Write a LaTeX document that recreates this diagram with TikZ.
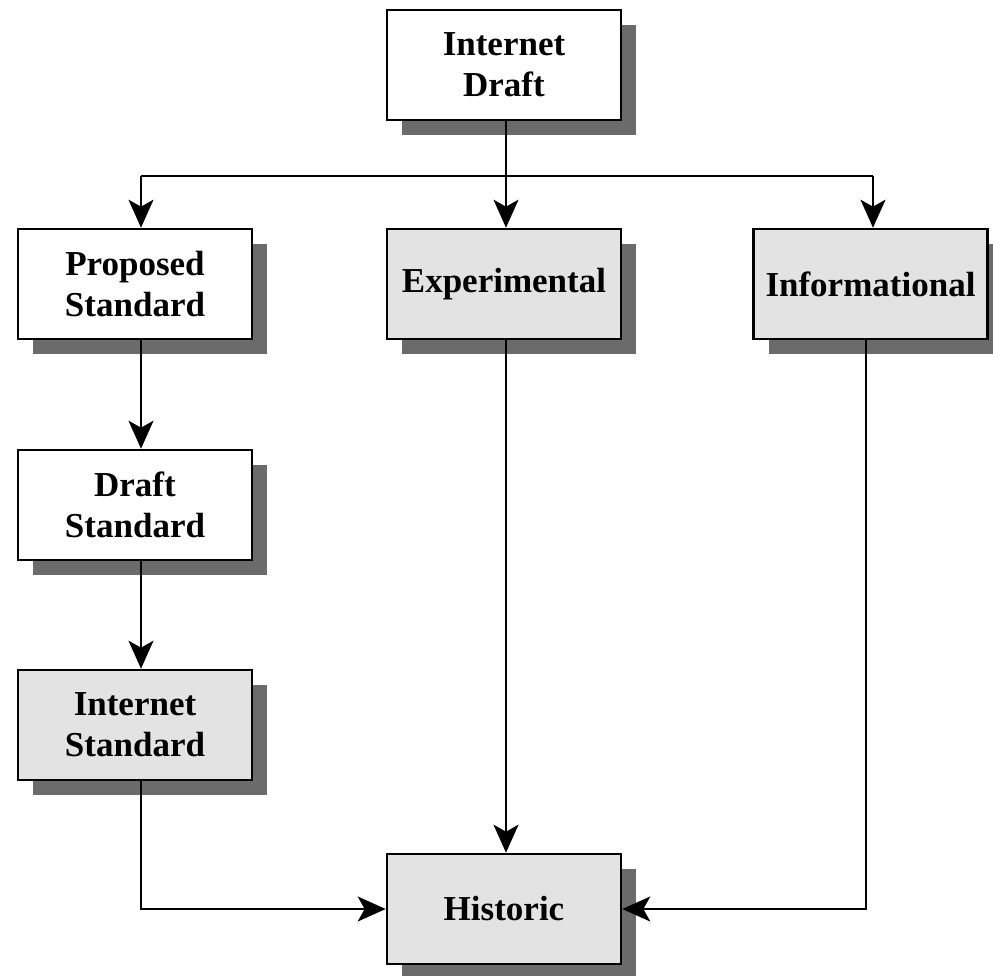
\documentclass[tikz,border=0pt]{standalone}
\usepackage{fontspec}
\setmainfont{Liberation Serif}
\usetikzlibrary{arrows.meta,shadows}
\definecolor{boxgray}{HTML}{E3E3E3}
\definecolor{shadowgray}{HTML}{6B6B6B}
\tikzset{
  box/.style={draw=black, line width=1.3pt, fill=white, minimum width=117pt, minimum height=55pt,
    align=center, inner sep=0pt, font=\fontsize{17.5}{20.5}\selectfont\bfseries,
    general shadow={fill=shadowgray, shadow xshift=7.5pt, shadow yshift=-7.5pt}},
  graybox/.style={box, fill=boxgray},
  line/.style={draw=black, line width=1pt},
  arr/.style={line, -{Stealth[length=14pt, width=12.5pt, inset=3.5pt]}}
}
\begin{document}
\begin{tikzpicture}[x=0.5pt, y=-0.5pt]
\useasboundingbox (0,0) rectangle (993,976);
\node[box] (id) at (504,65) {Internet\\Draft};
\node[box] (ps) at (135,284) {Proposed\\Standard};
\node[graybox] (ex) at (504,284) {Experimental};
\node[graybox] (in) at (870.5,284) {Informational};
\node[box] (ds) at (135,505) {Draft\\Standard};
\node[graybox] (is) at (135,725) {Internet\\Standard};
\node[graybox] (hi) at (504,909) {Historic};
\coordinate (jm) at (506,176);
\coordinate (jl) at (141,176);
\coordinate (jr) at (873,176);
\coordinate (ib) at (866,340);
\draw[line] (jm |- id.south) -- (jm);
\draw[line] (jl) -- (jr);
\draw[arr] (jl) -- (jl |- ps.north);
\draw[arr] (jm) -- (jm |- ex.north);
\draw[arr] (jr) -- (jr |- in.north);
\draw[arr] (jl |- ps.south) -- (jl |- ds.north);
\draw[arr] (jl |- ds.south) -- (jl |- is.north);
\draw[arr] (jl |- is.south) |- (hi.west);
\draw[arr] (jm |- ex.south) -- (jm |- hi.north);
\draw[arr] (ib |- in.south) |- (hi.east);
\end{tikzpicture}
\end{document}
